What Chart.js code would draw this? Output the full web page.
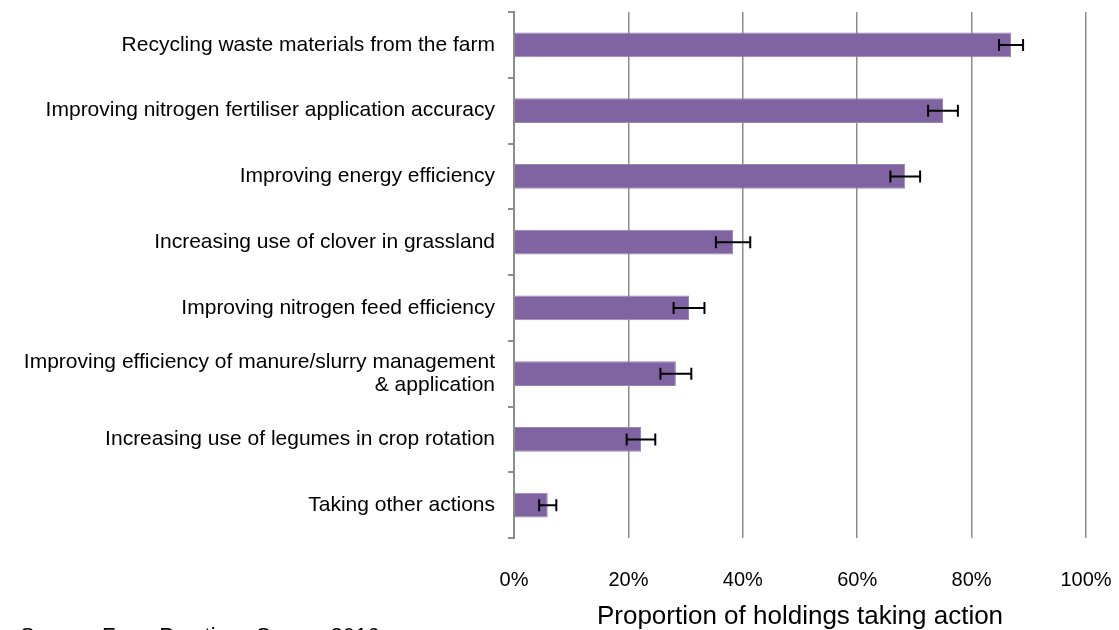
<!DOCTYPE html>
<html>
<head>
<meta charset="utf-8">
<script src="https://cdn.jsdelivr.net/npm/chart.js@4/dist/chart.umd.min.js"></script>
<style>
  html, body { margin: 0; padding: 0; background: #fff; }
  #wrap { width: 1119px; height: 630px; position: relative; }
</style>
</head>
<body>
<div id="wrap"><canvas id="farmChart"></canvas></div>
<script>
// data
const actions = [
    "Recycling waste materials from the farm",
    "Improving nitrogen fertiliser application accuracy",
    "Improving energy efficiency",
    "Increasing use of clover in grassland",
    "Improving nitrogen feed efficiency",
    ["Improving efficiency of manure/slurry management", "& application"],
    "Increasing use of legumes in crop rotation",
    "Taking other actions",
];
const shares = [86.9, 75.0, 68.4, 38.3, 30.6, 28.3, 22.2, 5.9];
const errors = [2.1, 2.6, 2.6, 3.0, 2.7, 2.7, 2.5, 1.5];
const xTicks = [0, 20, 40, 60, 80, 100];

const axisTitle = "Proportion of holdings taking action";
const sourceNote = "Source: Farm Practices Survey 2016";

const FONT = "'Liberation Sans', Arial, sans-serif";

// whiskers drawn from the scale, not typed in
const errorBars = {
    id: "errorBars",
    afterDatasetsDraw(chart) {
        const meta = chart.getDatasetMeta(0);
        const x = chart.scales.x;
        const ctx = chart.ctx;
        ctx.save();
        ctx.strokeStyle = "#000";
        ctx.lineWidth = 2;
        meta.data.forEach((bar, i) => {
            const lo = x.getPixelForValue(shares[i] - errors[i]);
            const hi = x.getPixelForValue(shares[i] + errors[i]);
            const y = bar.y;
            ctx.beginPath();
            ctx.moveTo(lo, y);
            ctx.lineTo(hi, y);
            ctx.moveTo(lo, y - 6);
            ctx.lineTo(lo, y + 6);
            ctx.moveTo(hi, y - 6);
            ctx.lineTo(hi, y + 6);
            ctx.stroke();
        });
        ctx.restore();
    },
};

const sourceText = {
    id: "sourceText",
    afterDraw(chart) {
        const ctx = chart.ctx;
        ctx.save();
        ctx.fillStyle = "#000";
        ctx.font = "22px " + FONT;
        ctx.textBaseline = "top";
        ctx.textAlign = "left";
        ctx.fillText(sourceNote, 20, 626);
        ctx.restore();
    },
};

new Chart(document.getElementById("farmChart").getContext("2d"), {
    type: "bar",

    data: {
        labels: actions,

        datasets: [
            {
                data: shares,

                backgroundColor: "#8064A2",

                borderColor: "#9a84b8",

                borderWidth: 1,

                barPercentage: 0.38,

                categoryPercentage: 1,
            },
        ],
    },

    options: {
        indexAxis: "y",

        responsive: true,

        maintainAspectRatio: false,

        animation: false,

        layout: {
            padding: { left: 0, right: 33, top: 12, bottom: 0 },
        },

        scales: {
            x: {
                min: 0,

                max: 100,

                afterFit: (s) => {
                    s.height = 92;
                    s.paddingLeft = 0;
                    s.paddingRight = 0;
                },

                afterBuildTicks: (s) => { s.ticks = xTicks.map((v) => ({ value: v })); },

                grid: {
                    color: "#8c8c8c",
                    lineWidth: 1.5,
                    drawTicks: false,
                },

                border: { display: false },

                ticks: {
                    padding: 30,
                    color: "#000",
                    font: { family: FONT, size: 20 },
                    callback: (v) => v + "%",
                },

                title: {
                    display: true,
                    text: axisTitle,
                    color: "#000",
                    font: { family: FONT, size: 26 },
                    padding: { top: 0, bottom: -2 },
                },
            },

            y: {
                afterFit: (s) => {
                    s.width = 514;
                    s.paddingTop = 0;
                    s.paddingBottom = 0;
                },

                grid: {
                    drawOnChartArea: false,
                    drawTicks: true,
                    tickLength: 6,
                    color: "#8c8c8c",
                    lineWidth: 2,
                },

                border: { color: "#8c8c8c", width: 2 },

                ticks: {
                    padding: 13,
                    color: "#000",
                    font: { family: FONT, size: 21, lineHeight: 1.1 },
                },
            },
        },

        plugins: {
            legend: { display: false },
            tooltip: { enabled: false },
        },
    },

    plugins: [errorBars, sourceText],
});
</script>
</body>
</html>
